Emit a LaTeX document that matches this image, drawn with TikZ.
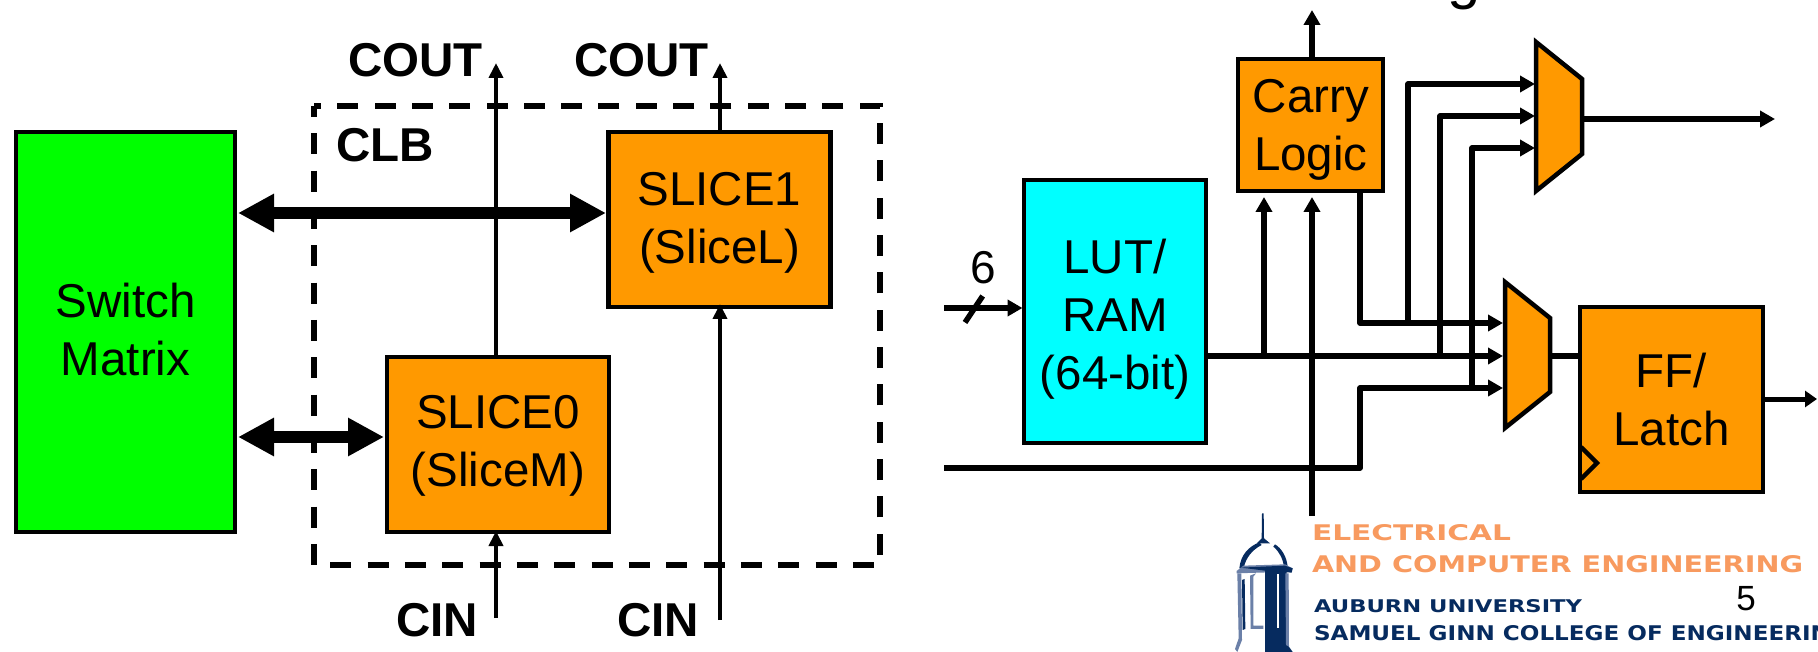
\documentclass[tikz,border=0pt]{standalone}
\usepackage{fontspec}
\usepackage{graphicx}
\setmainfont{Liberation Sans}
\newfontfamily\logofont{DejaVu Sans}
\usetikzlibrary{arrows.meta,calc}
\definecolor{blockorange}{HTML}{FF9900}
\definecolor{blockcyan}{HTML}{00FFFF}
\definecolor{blockgreen}{HTML}{00FF00}
\definecolor{logoorange}{HTML}{F89A5F}
\definecolor{logonavy}{HTML}{062B5F}
\definecolor{logoslate}{HTML}{6B80A8}
\tikzset{
  blockbox/.style={draw=black,line width=4pt,fill=blockorange,inner sep=0pt,outer sep=0pt,align=center,
    font=\fontsize{47.5}{58}\selectfont},
  boldlabel/.style={anchor=base west,inner sep=0pt,outer sep=0pt,font=\fontsize{47.5}{50}\selectfont\bfseries},
  plainlabel/.style={anchor=base,inner sep=0pt,outer sep=0pt,font=\fontsize{46}{50}\selectfont},
  wirea/.style={line width=4.5pt,-{Triangle[length=15pt,width=14pt]}},
  wireb/.style={line width=5.5pt,line join=round},
  wirec/.style={line width=5.5pt,line join=round,-{Triangle[length=15pt,width=16pt]}},
  buswire/.style={line width=12pt,{Triangle[length=36pt,width=36pt]}-{Triangle[length=36pt,width=36pt]}},
  muxbody/.style={draw=black,line width=4.5pt,fill=blockorange,line join=miter},
  logotext/.style={anchor=base west,inner sep=0pt,outer sep=0pt},
}
\newcommand{\upstrut}[1]{\rule{0pt}{#1pt}}
\newcommand{\downstrut}[1]{\rule[-#1pt]{0pt}{#1pt}}
\begin{document}
\begin{tikzpicture}[x=1pt,y=-1pt]
\useasboundingbox (0,0) rectangle (1818,652);
\fill[white] (0,0) rectangle (1818,652);
% title fragment
\node[anchor=base,inner sep=0pt,font=\fontsize{60}{60}\selectfont] (titleg) at (1464,-2) {g};
% CLB outline
\draw[line width=5.5pt,dash pattern=on 21pt off 16.33pt,dash phase=10pt] (314,106) -- (314,565) -- (880,565) -- (880,106) -- cycle;
% left blocks
\node[blockbox,fill=blockgreen,minimum width=219pt,minimum height=400pt] (matrix) at (125.5,332) {Switch\\Matrix\downstrut{5}};
\node[blockbox,line width=4.5pt,minimum width=222pt,minimum height=175pt] (slicel) at (719.5,219.5) {\upstrut{40}SLICE1\\(SliceL)};
\node[blockbox,line width=4.5pt,minimum width=222pt,minimum height=175pt] (slicem) at (498,444.5) {\upstrut{36}SLICE0\\(SliceM)};
\node[boldlabel] (lclb) at (336,161.5) {CLB};
\node[boldlabel] (lcouta) at (348,76.5) {COUT};
\node[boldlabel] (lcoutb) at (574,76.5) {COUT};
\node[boldlabel] (lcina) at (396,636) {CIN};
\node[boldlabel] (lcinb) at (617,636) {CIN};
% left connectors
\coordinate (couta) at (496,63);
\coordinate (coutb) at (720,63);
\coordinate (cina) at (496,618);
\coordinate (cinb) at (720,620);
\coordinate (busa) at (0,213);
\coordinate (busb) at (0,437);
\draw[wirea] (slicem.north -| couta) -- (couta);
\draw[wirea] (slicel.north -| coutb) -- (coutb);
\draw[wirea] (cina) -- ([yshift=1pt]slicem.south -| cina);
\draw[wirea] (cinb) -- ([yshift=3pt]slicel.south -| cinb);
\draw[buswire] ([xshift=3pt]matrix.east |- busa) -- ([xshift=-2.5pt]slicel.west |- busa);
\draw[buswire] ([xshift=3pt]matrix.east |- busb) -- ([xshift=-3pt]slicem.west |- busb);
% right blocks
\node[blockbox,fill=blockcyan,minimum width=182pt,minimum height=263pt] (lut) at (1115,311.5) {\upstrut{50}LUT/\\RAM\\(64-bit)};
\node[blockbox,minimum width=145pt,minimum height=132pt] (carry) at (1310.8,125) {\upstrut{43}Carry\\Logic};
\node[blockbox,minimum width=183pt,minimum height=185pt] (ff) at (1671.5,399.5) {FF/\\Latch};
\node[plainlabel] (lsix) at (983.5,284) {6};
% right wiring coordinates
\coordinate (lutline) at (0,356);
\coordinate (carrytop) at (1312,10);
\coordinate (carrya) at (1264,197);
\coordinate (carryb) at (1312,197);
\coordinate (carrybstart) at (1312,516);
\coordinate (carryc) at (1360,323);
\coordinate (muxbina) at (1503,323);
\coordinate (muxbinb) at (1503,356);
\coordinate (muxbinc) at (1503,388);
\coordinate (muxainA) at (1535,84);
\coordinate (muxainB) at (1535,116);
\coordinate (muxainC) at (1535,148);
\coordinate (inlut) at (944,308);
\coordinate (inbot) at (944,468);
\coordinate (botturn) at (1360,468);
\coordinate (botup) at (1360,388);
\coordinate (muxaout) at (1583,119);
\coordinate (outa) at (1775,119);
\coordinate (outb) at (1817,399);
% wires
\draw[wirec] (carry.north -| carrytop) -- (carrytop);
\draw[wirec] (lut.east |- lutline) -- (muxbinb);
\draw[wirec] (carrya |- lutline) -- (carrya);
\draw[wirec] (carrybstart) -- (carryb);
\draw[wirec] (carry.south -| carryc) -- (carryc) -- (muxbina);
\draw[wirec] (inbot) -- (botturn) -- (botup) -- (muxbinc);
\draw[wirec] (1408,323) -- (1408,84) -- (muxainA);
\draw[wirec] (1440,356) -- (1440,116) -- (muxainB);
\draw[wirec] (1472,388) -- (1472,148) -- (muxainC);
\draw[wirec] (inlut) -- ([xshift=-1.5pt]lut.west |- inlut);
\draw[wireb] (965,322.5) -- (982.7,296);
% muxes
\draw[muxbody] (1536,42) -- (1582,79) -- (1582,154) -- (1536,191) -- cycle;
\draw[muxbody] (1505,282) -- (1550,318) -- (1550,392) -- (1505,428) -- cycle;
\draw[wirec] (muxaout) -- (outa);
\draw[line width=6pt] (1552,356) -- (ff.west |- lutline);
\draw[line width=5pt,-{Triangle[length=12pt,width=16pt]}] (ff.east |- outb) -- (outb);
\draw[line width=4.5pt,miter limit=10] (1581,447) -- (1597,463) -- (1581,479);
% footer text
\node[logotext,text=logoorange] (fa) at (1312,540) {\resizebox{199pt}{16pt}{\logofont\bfseries ELECTRICAL}};
\node[logotext,text=logoorange] (fb) at (1312,572) {\resizebox{491pt}{17pt}{\logofont\bfseries AND COMPUTER ENGINEERING}};
\node[logotext,text=logonavy] (fc) at (1314,612) {\resizebox{268pt}{13pt}{\logofont\bfseries AUBURN UNIVERSITY}};
\node[logotext,text=logonavy] (fd) at (1314,640) {\resizebox{535pt}{15pt}{\logofont\bfseries SAMUEL GINN COLLEGE OF ENGINEERING}};
\node[anchor=base,inner sep=0pt,font=\fontsize{35}{35}\selectfont] (pagenum) at (1746,610) {5};
% tower
\begin{scope}[shift={(1220,505)},x=0.3333pt,y=-0.3333pt]
  \fill[logonavy] (126,25) -- (131,25) -- (132,100) -- (150,115) -- (110,115) -- (125,100) -- cycle;
  \fill[logonavy] (118,112) .. controls (85,125) and (62,150) .. (58,190) -- (72,185) .. controls (78,160) and (95,135) .. (125,120) -- cycle;
  \fill[logonavy] (165,118) .. controls (185,130) and (200,155) .. (203,185) -- (192,185) .. controls (188,160) and (178,140) .. (160,125) -- cycle;
  \fill[logoslate] (70,182) -- (195,178) -- (218,190) -- (215,200) -- (50,205) -- (50,198) -- cycle;
  \fill[logonavy] (60,188) -- (195,182) -- (218,190) -- (215,203) -- (135,197) -- (80,190) -- cycle;
  \fill[logonavy] (135,195) -- (200,200) -- (203,420) -- (218,441) -- (135,441) -- cycle;
  \fill[white] (170,207) -- (176,207) -- (176,370) -- (170,370) -- cycle;
  \fill[logoslate] (196,205) -- (206,205) -- (207,425) -- (198,420) -- cycle;
  \fill[logoslate] (52,205) -- (64,205) -- (66,405) -- (52,441) -- (45,432) -- (56,400) -- cycle;
  \fill[logonavy] (66,225) -- (74,222) -- (76,372) -- (68,375) -- cycle;
  \fill[logoslate] (90,212) -- (108,205) -- (100,215) -- (100,362) -- (130,362) -- (130,372) -- (92,372) -- cycle;
\end{scope}
\end{tikzpicture}
\end{document}
